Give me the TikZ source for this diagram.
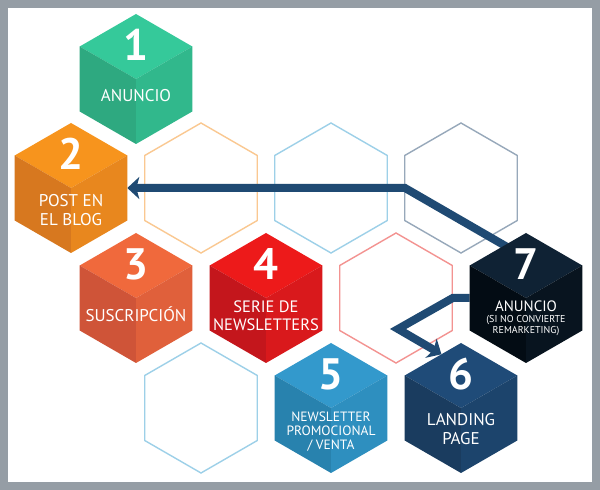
\documentclass[tikz,border=0pt]{standalone}
\usepackage{fontspec}
\setmainfont{PT Sans}
\usetikzlibrary{shapes.geometric,arrows.meta,calc}

\definecolor{frame}{HTML}{959DA5}
\definecolor{flow}{HTML}{1F4A73}
% cube faces: top / left / right
\definecolor{greenT}{HTML}{35C99A}\definecolor{greenL}{HTML}{2EA980}\definecolor{greenR}{HTML}{31B88C}
\definecolor{orangeT}{HTML}{F7941D}\definecolor{orangeL}{HTML}{D7781F}\definecolor{orangeR}{HTML}{E8871E}
\definecolor{coralT}{HTML}{F0693C}\definecolor{coralL}{HTML}{CF5438}\definecolor{coralR}{HTML}{E0603B}
\definecolor{redT}{HTML}{ED1A1A}\definecolor{redL}{HTML}{C4161C}\definecolor{redR}{HTML}{D9191C}
\definecolor{skyT}{HTML}{3399CC}\definecolor{skyL}{HTML}{2882AE}\definecolor{skyR}{HTML}{2E8FBF}
\definecolor{navyT}{HTML}{1F4B78}\definecolor{navyL}{HTML}{1A3C5F}\definecolor{navyR}{HTML}{1C446C}
\definecolor{inkT}{HTML}{0F2234}\definecolor{inkL}{HTML}{030C14}\definecolor{inkR}{HTML}{08141F}
% empty cells
\definecolor{lineOrange}{HTML}{FAC891}
\definecolor{lineBlue}{HTML}{9DD0E8}
\definecolor{lineSlate}{HTML}{97A8BA}
\definecolor{linePink}{HTML}{F39391}

\newcommand{\hexR}{65}
\newcommand{\hexcube}[5]{% cell, top, left, right, number
  \fill[#2] (#1.center) -- ++(30:\hexR) -- ++(150:\hexR) -- ++(210:\hexR) -- cycle;
  \fill[#3] (#1.center) -- ++(150:\hexR) -- ++(270:\hexR) -- ++(330:\hexR) -- cycle;
  \fill[#4] (#1.center) -- ++(270:\hexR) -- ++(30:\hexR) -- ++(90:\hexR) -- cycle;
  \node[hexnum] (#1-num) at ($(#1.center)+(0,34)$) {#5};
}
\newcommand{\smalltxt}{\fontsize{10}{10}\selectfont}

\begin{document}
\begin{tikzpicture}[
    x=1pt, y=1pt,
    hexcell/.style={regular polygon, regular polygon sides=6, shape border rotate=30,
      minimum size=130pt, inner sep=0pt, outer sep=0pt},
    emptycell/.style={hexcell, draw=#1, line width=1.4pt},
    hexnum/.style={text=white, font=\fontsize{44}{44}\selectfont\bfseries, inner sep=0pt},
    hextext/.style={text=white, align=center, inner sep=0pt, font=\fontsize{17}{19}\selectfont},
    flowarrow/.style={draw=flow, line width=8pt, line join=miter,
      -{Stealth[length=12pt, width=22pt, inset=3pt]}},
]

% frame
\fill[frame] (0,0) rectangle (600,490);
\fill[white] (8,8) rectangle (592,482);

% cells of the honeycomb
\node[hexcell] (h1) at (136,411) {};
\node[hexcell] (h2) at (71,302) {};
\node[emptycell=lineOrange] (e1) at (201,302) {};
\node[emptycell=lineBlue] (e2) at (331,302) {};
\node[emptycell=lineSlate] (e3) at (461,302) {};
\node[hexcell] (h3) at (136,192) {};
\node[hexcell] (h4) at (266,192) {};
\node[emptycell=linePink] (e4) at (396,192) {};
\node[hexcell] (h7) at (526,192) {};
\node[emptycell=lineBlue] (e5) at (201,82) {};
\node[hexcell] (h5) at (331,82) {};
\node[hexcell] (h6) at (461,82) {};

% arrows
\coordinate (k1) at (405,302);
\coordinate (a1) at ($(k1)+(-30:130)$);
\draw[flowarrow] (a1) -- (k1) -- (k1 -| h2.east);
\coordinate (k2) at ($(h7.west)+(-17,0)$);
\coordinate (k3) at (398,161);
\draw[flowarrow] (h7.west) -- (k2) -- (k3) -- (h6.110);

% cubes
\hexcube{h1}{greenT}{greenL}{greenR}{1}
\hexcube{h2}{orangeT}{orangeL}{orangeR}{2}
\hexcube{h3}{coralT}{coralL}{coralR}{3}
\hexcube{h4}{redT}{redL}{redR}{4}
\hexcube{h5}{skyT}{skyL}{skyR}{5}
\hexcube{h6}{navyT}{navyL}{navyR}{6}
\hexcube{h7}{inkT}{inkL}{inkR}{7}

% texts
\node[hextext] (h1-txt) at ($(h1)+(0,-17)$) {ANUNCIO};
\node[hextext] (h2-txt) at ($(h2)+(0,-22)$) {POST EN\\EL BLOG};
\node[hextext] (h3-txt) at ($(h3)+(0,-16)$) {SUSCRIPCIÓN};
\node[hextext, font=\fontsize{16.5}{18}\selectfont] (h4-txt) at ($(h4)+(0,-18)$) {SERIE DE\\NEWSLETTERS};
\node[hextext, font=\fontsize{13.5}{14}\selectfont] (h5-txt) at ($(h5)+(0,-24)$) {NEWSLETTER\\PROMOCIONAL\\/ VENTA};
\node[hextext] (h6-txt) at ($(h6)+(0,-21)$) {LANDING\\PAGE};
\node[hextext, font=\fontsize{15}{15}\selectfont] (h7-txt) at ($(h7)+(0,-20)$)
  {ANUNCIO\\[-4pt]{\smalltxt(SI NO CONVIERTE}\\[-4pt]{\smalltxt REMARKETING)}};

\end{tikzpicture}
\end{document}
